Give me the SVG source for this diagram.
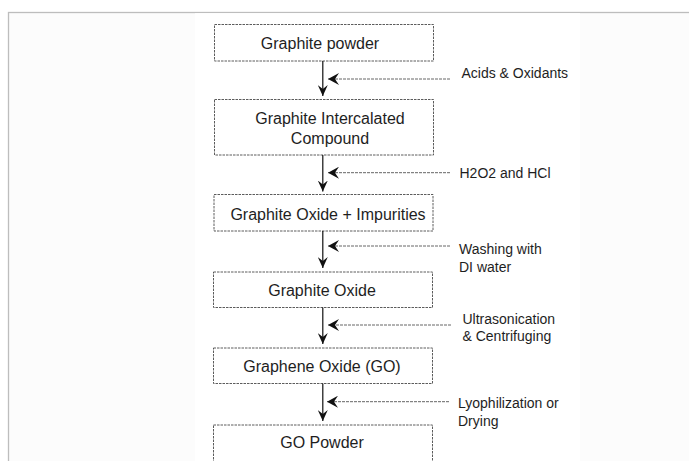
<svg xmlns="http://www.w3.org/2000/svg" width="689" height="461" viewBox="0 0 689 461">
  <style>
    .box { fill: #ffffff; stroke: #4a4a4a; stroke-width: 0.9; stroke-dasharray: 2.5 1; }
    .node-text { font-family: "Liberation Sans", Arial, sans-serif; font-size: 16px; fill: #1e1e1e; text-anchor: middle; }
    .label { font-family: "Liberation Sans", Arial, sans-serif; font-size: 14px; fill: #1e1e1e; }
    .flow { stroke: #111; stroke-width: 1.2; fill: none; }
    .feed { stroke: #555; stroke-width: 0.9; stroke-dasharray: 3 1; fill: none; }
  </style>
  <defs>
    <marker id="head" viewBox="0 0 12 10" refX="11" refY="5" markerWidth="12" markerHeight="10" markerUnits="userSpaceOnUse" orient="auto">
      <path d="M0,0 L11,5 L0,10 L4,5 Z" fill="#111"/>
    </marker>
    <marker id="feedhead" viewBox="0 0 12 12" refX="11" refY="6" markerWidth="12" markerHeight="12" markerUnits="userSpaceOnUse" orient="auto">
      <path d="M0,0 L11,6 L0,12 L4,6 Z" fill="#111"/>
    </marker>
  </defs>

  <!-- page background and frame -->
  <rect x="0" y="0" width="689" height="461" fill="#ffffff"/>
  <rect x="8.5" y="12.5" width="700" height="460" fill="#fcfcfc" stroke="#bdbdbd" stroke-width="1.3"/>
  <rect x="195" y="13.2" width="385" height="450" fill="#ffffff"/>

  <!-- process steps -->
  <g id="graphite-powder">
    <rect class="box" x="214.5" y="24.5" width="219" height="36.5"/>
    <text class="node-text" x="320" y="48.5">Graphite powder</text>
  </g>
  <g id="graphite-intercalated-compound">
    <rect class="box" x="214.5" y="99.5" width="219" height="55.5"/>
    <text class="node-text" x="330" y="123.5">Graphite Intercalated</text>
    <text class="node-text" x="330" y="144">Compound</text>
  </g>
  <g id="graphite-oxide-impurities">
    <rect class="box" x="214" y="194.5" width="219" height="36.5"/>
    <text class="node-text" x="328" y="219.5">Graphite Oxide + Impurities</text>
  </g>
  <g id="graphite-oxide">
    <rect class="box" x="213.5" y="272" width="219" height="35.5"/>
    <text class="node-text" x="322" y="295.5">Graphite Oxide</text>
  </g>
  <g id="graphene-oxide">
    <rect class="box" x="213.5" y="348" width="219" height="35.5"/>
    <text class="node-text" x="322" y="372">Graphene Oxide (GO)</text>
  </g>
  <g id="go-powder">
    <rect class="box" x="213.5" y="425" width="219" height="45"/>
    <text class="node-text" x="322" y="448">GO Powder</text>
  </g>

  <!-- connectors: main flow and incoming treatments -->
  <g id="connectors">
    <line class="flow" x1="322.8" y1="61" x2="322.8" y2="96" marker-end="url(#head)"/>
    <line class="flow" x1="322.8" y1="155" x2="322.8" y2="191.5" marker-end="url(#head)"/>
    <line class="flow" x1="322.8" y1="231" x2="322.8" y2="268" marker-end="url(#head)"/>
    <line class="flow" x1="322.8" y1="307.5" x2="322.8" y2="344" marker-end="url(#head)"/>
    <line class="flow" x1="322.8" y1="383.5" x2="322.8" y2="421" marker-end="url(#head)"/>

    <line class="feed" x1="450" y1="79" x2="328" y2="79" marker-end="url(#feedhead)"/>
    <line class="feed" x1="450" y1="172.7" x2="328" y2="172.7" marker-end="url(#feedhead)"/>
    <line class="feed" x1="450" y1="246" x2="328" y2="246" marker-end="url(#feedhead)"/>
    <line class="feed" x1="451" y1="325" x2="328" y2="325" marker-end="url(#feedhead)"/>
    <line class="feed" x1="449" y1="401.7" x2="327" y2="401.7" marker-end="url(#feedhead)"/>
  </g>

  <!-- treatment labels -->
  <g id="labels">
    <text class="label" x="461.5" y="78">Acids &amp; Oxidants</text>
    <text class="label" x="459.5" y="177.5">H2O2 and HCl</text>
    <text class="label" x="459" y="254">Washing with</text>
    <text class="label" x="459" y="272">DI water</text>
    <text class="label" x="462.5" y="323.5">Ultrasonication</text>
    <text class="label" x="462.5" y="341">&amp; Centrifuging</text>
    <text class="label" x="458" y="408">Lyophilization or</text>
    <text class="label" x="458" y="425.5">Drying</text>
  </g>
</svg>
